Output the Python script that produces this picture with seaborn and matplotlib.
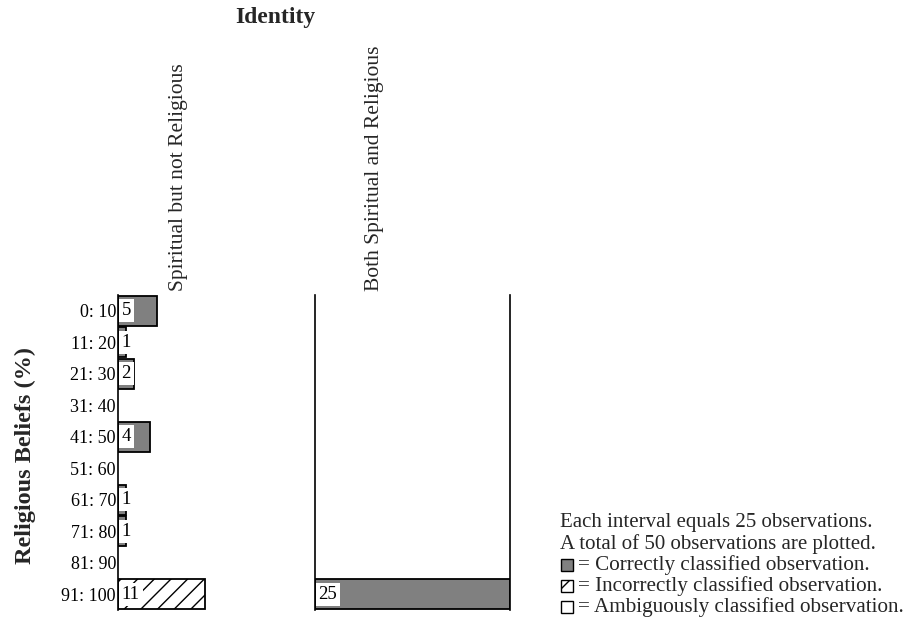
import matplotlib
matplotlib.use("Agg")
import matplotlib.pyplot as plt
from matplotlib.patches import Rectangle
import seaborn as sns
import pandas as pd

# Religious-belief intervals (rows) and the two identity groups (columns)
belief_bins = ["0: 10", "11: 20", "21: 30", "31: 40", "41: 50",
               "51: 60", "61: 70", "71: 80", "81: 90", "91: 100"]
identities = ["Spiritual but not Religious", "Both Spiritual and Religious"]

# Observation counts per interval for each identity
spiritual_not_religious = [5, 1, 2, 0, 4, 0, 1, 1, 0, 11]
both_spiritual_religious = [0, 0, 0, 0, 0, 0, 0, 0, 0, 25]

# Classification status of each bar
spiritual_not_religious_class = ["correct", "correct", "correct", "correct", "correct",
                                 "correct", "correct", "correct", "correct", "incorrect"]
both_spiritual_religious_class = ["correct"] * 10

interval_size = 25
total_obs = 50

frames = []
for ident, counts, classes in [
    (identities[0], spiritual_not_religious, spiritual_not_religious_class),
    (identities[1], both_spiritual_religious, both_spiritual_religious_class),
]:
    frames.append(pd.DataFrame({"Identity": ident, "Beliefs": belief_bins,
                                "Count": counts, "Class": classes}))
df = pd.concat(frames, ignore_index=True)

sns.set_theme(style="white")
plt.rcParams["font.family"] = ["Liberation Serif", "DejaVu Serif"]

W, H = 909, 624
fig = plt.figure(figsize=(W / 100, H / 100), dpi=100)


def fx(px):
    return px / W


def fy(py):
    return 1 - py / H


top_px, bot_px = 295, 610
panels = [(118, 315), (315, 510)]
axes = []
for (x0, x1) in panels:
    ax = fig.add_axes([fx(x0), fy(bot_px), fx(x1 - x0), (bot_px - top_px) / H])
    axes.append(ax)

gray = "#808080"
for i, (ax, ident) in enumerate(zip(axes, identities)):
    sub = df[df["Identity"] == ident]
    sns.barplot(data=sub, x="Count", y="Beliefs", order=belief_bins, orient="h",
                color=gray, width=0.95, edgecolor="black", linewidth=1.3,
                saturation=1, ax=ax)
    for patch, cls, cnt in zip(ax.patches, sub["Class"], sub["Count"]):
        patch.set_zorder(1)
        if cls == "incorrect":
            patch.set_facecolor("white")
            patch.set_hatch("//")
        elif cls == "ambiguous":
            patch.set_facecolor("white")
        if cnt == 0:
            patch.set_visible(False)
    # count labels on a white box at the start of each bar
    for j, cnt in enumerate(sub["Count"]):
        if cnt > 0:
            ax.annotate(str(cnt), xy=(0, j), xytext=(3.5, 0), textcoords="offset pixels",
                        ha="left", va="center", fontsize=13.5, color="black",
                        zorder=2.2,
                        bbox=dict(boxstyle="square,pad=0.16", fc="white", ec="none"))
    ax.set_xlim(0, interval_size)
    ax.set_ylim(len(belief_bins) - 0.5, -0.5)
    ax.set_xlabel("")
    ax.set_ylabel("")
    ax.set_xticks([])
    for s in ["top", "bottom", "right"]:
        ax.spines[s].set_visible(False)
    ax.spines["left"].set_visible(True)
    ax.spines["left"].set_color("black")
    ax.spines["left"].set_linewidth(1.2)
    if i == 0:
        ax.tick_params(axis="y", length=0, pad=1.5, labelsize=13)
        for lab in ax.get_yticklabels():
            lab.set_color("black")
    else:
        ax.set_yticks([])
        ax.spines["right"].set_visible(True)
        ax.spines["right"].set_color("black")
        ax.spines["right"].set_linewidth(1.2)
    ax.patch.set_alpha(0)

# Column headers
fig.text(fx(178), fy(291), identities[0], rotation=90, ha="center", va="bottom",
         fontsize=15.5)
fig.text(fx(375), fy(291), identities[1], rotation=90, ha="center", va="bottom",
         fontsize=15.5)

# Title and row axis label
fig.text(fx(275), fy(18), "Identity", ha="center", va="center",
         fontsize=17, fontweight="bold")
fig.text(fx(25), fy(455), "Religious Beliefs (%)", rotation=90, ha="center",
         va="center", fontsize=17.5, fontweight="bold")

# Key
lx = 560
fig.text(fx(lx), fy(523), f"Each interval equals {interval_size} observations.",
         ha="left", va="center", fontsize=15)
fig.text(fx(lx), fy(544), f"A total of {total_obs} observations are plotted.",
         ha="left", va="center", fontsize=15)
key_items = [
    (gray, None, "= Correctly classified observation."),
    ("white", "//", "= Incorrectly classified observation."),
    ("white", None, "= Ambiguously classified observation."),
]
for k, (fc, hatch, label) in enumerate(key_items):
    yc = 565 + 21 * k
    sq = Rectangle((fx(561), fy(yc + 6)), fx(12), 12 / H, transform=fig.transFigure,
                   facecolor=fc, edgecolor="black", linewidth=1, hatch=hatch)
    fig.add_artist(sq)
    fig.text(fx(578), fy(yc), label, ha="left", va="center", fontsize=15.2)

fig.savefig("out.png", dpi=100)
